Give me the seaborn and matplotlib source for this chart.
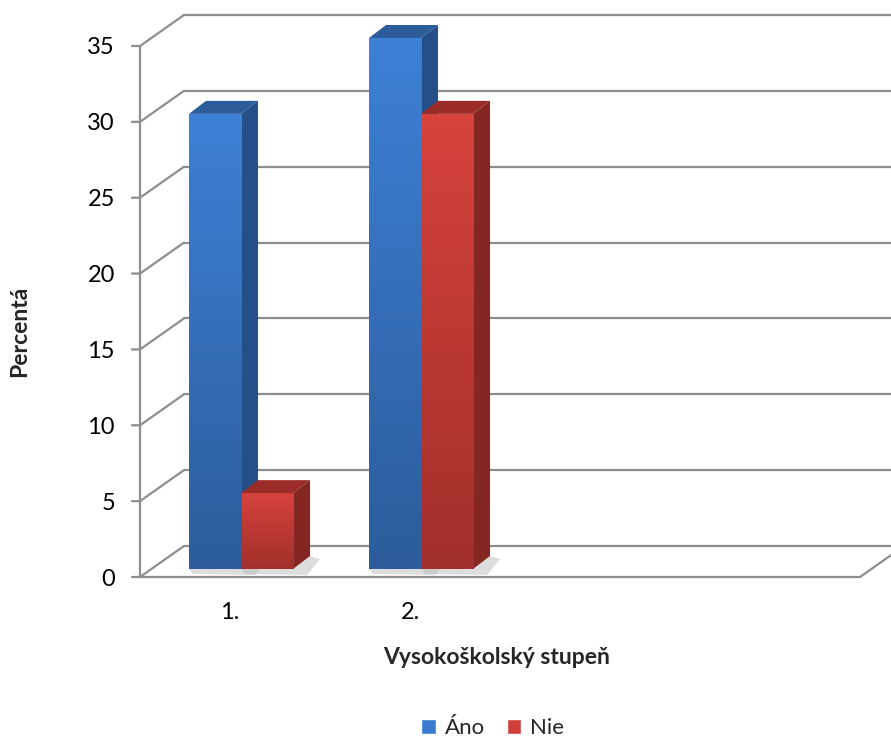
import matplotlib
matplotlib.use("Agg")
import matplotlib.pyplot as plt
import matplotlib.transforms as mtransforms
from matplotlib.patches import Polygon, Patch
import numpy as np
import pandas as pd
import seaborn as sns

# data
stupne = ["1.", "1.", "2.", "2."]
odpovede = ["Áno", "Nie", "Áno", "Nie"]
percenta = [30, 5, 35, 30]
y_ticks = [0, 5, 10, 15, 20, 25, 30, 35]

df = pd.DataFrame({"stupen": stupne, "odpoved": odpovede, "percent": percenta})

sns.set_style("white")
plt.rcParams["font.family"] = ["Lato", "DejaVu Sans"]

fig = plt.figure(figsize=(8.91, 7.40), dpi=100)
W, H = 891, 740
ax = fig.add_axes([140 / W, 1 - 577 / H, 720 / W, 531 / H])

blue = "#3a7bcf"
red = "#d13f3a"
sns.barplot(data=df, x="stupen", y="percent", hue="odpoved", palette=[blue, red],
            width=0.578, ax=ax, legend=False, saturation=1)
ax.set_xlim(-0.5, 3.5)
ax.set_ylim(0, 35)
for s in ax.spines.values():
    s.set_visible(False)
ax.tick_params(axis="both", length=0, labelsize=17, colors="black")
ax.set_yticks(y_ticks)
ax.tick_params(axis="y", pad=18)
ax.tick_params(axis="x", pad=18)
for lbl in ax.get_xticklabels():
    lbl.set_x(lbl.get_position()[0])
ax.set_xlabel("Vysokoškolský stupeň", fontsize=16.5, fontweight="bold")
ax.set_ylabel("Percentá", fontsize=16.5, fontweight="bold")
ax.xaxis.label.set_va("center")
ax.yaxis.label.set_va("center")
ax.xaxis.set_label_coords((497 - 140) / 720, -(658 - 577) / 531)
ax.yaxis.set_label_coords(-(140 - 20) / 720, (577 - 331) / 531)

# pseudo 3D frame: back wall grid lines and diagonals
grey = "#8e8e8e"
back = mtransforms.offset_copy(ax.transData, fig, x=44, y=31, units="dots")
for t in y_ticks:
    ax.plot([-0.5, 3.8], [t, t], color=grey, lw=1.6, transform=back, clip_on=False, zorder=0)
    p0 = ax.transData.transform((-0.5, t))
    p1 = back.transform((-0.5, t))
    ax.add_line(plt.Line2D([p0[0] - 8, p0[0], p1[0]], [p0[1], p0[1], p1[1]], color=grey,
                           lw=1.6, transform=None, clip_on=False, zorder=0))
ax.plot([-0.5, -0.5], [0, 35], color=grey, lw=1.6, clip_on=False, zorder=0)
ax.plot([-0.5, 3.5], [0, 0], color=grey, lw=1.6, clip_on=False, zorder=0)
q0 = ax.transData.transform((3.5, 0))
q1 = back.transform((3.5, 0))
ax.add_line(plt.Line2D([q0[0], q1[0]], [q0[1], q1[1]], color=grey, lw=1.6,
                       transform=None, clip_on=False, zorder=0))

# bars: move front face into depth, add side / top faces and gradient
front = mtransforms.offset_copy(ax.transData, fig, x=11, y=8, units="dots")
rear = mtransforms.offset_copy(ax.transData, fig, x=28, y=21, units="dots")
shades = {
    blue: ("#3d80d6", "#2c5c9b", "#2c5c99", "#254f88", "#1f426f"),
    red: ("#d6423c", "#a22f2b", "#9c2c28", "#842622", "#5f1a18"),
}
bars = list(ax.patches)
for bar in sorted(bars, key=lambda b: -b.get_x()):
    x, w, h = bar.get_x(), bar.get_width(), bar.get_height()
    fc = matplotlib.colors.to_hex(bar.get_facecolor())
    top_c, bot_c, lid_c, side_top, side_bot = shades[fc]
    bar.set_transform(front)
    bar.set_edgecolor("none")
    bar.set_zorder(3)
    # shadow on the floor
    s = [front.transform((x + w, 0)), rear.transform((x + w, 0)),
         rear.transform((x + w, 0)) + [10, -3], front.transform((x + w, 0)) + [14, -6],
         front.transform((x, 0)) + [4, -5], front.transform((x, 0))]
    ax.add_patch(Polygon(s, closed=True, transform=None, color="#bdbdbd", alpha=0.5,
                         lw=0, zorder=1, clip_on=False))
    grad = np.linspace(0, 1, 64)[:, None]
    cmap = matplotlib.colors.LinearSegmentedColormap.from_list("g", [bot_c, top_c])
    im = ax.imshow(grad, cmap=cmap, aspect="auto", extent=(x, x + w, 0, h), origin="lower",
                   transform=front, zorder=3.1, clip_on=True)
    im.set_clip_path(bar)
    side = [front.transform((x + w, 0)), front.transform((x + w, h)),
            rear.transform((x + w, h)), rear.transform((x + w, 0))]
    cmap2 = matplotlib.colors.LinearSegmentedColormap.from_list("s", [side_bot, side_top])
    sp = Polygon(side, closed=True, transform=None, facecolor=side_top, lw=0, zorder=2.9,
                 clip_on=False)
    ax.add_patch(sp)
    im2 = ax.imshow(grad, cmap=cmap2, aspect="auto", extent=(x + w, x + w + 0.1, 0, h),
                    origin="lower", transform=rear, zorder=2.95)
    im2.set_clip_path(sp)
    lid = [front.transform((x, h)), front.transform((x + w, h)),
           rear.transform((x + w, h)), rear.transform((x, h))]
    ax.add_patch(Polygon(lid, closed=True, transform=None, facecolor=lid_c, lw=0, zorder=3.2,
                         clip_on=False))
ax.set_xlim(-0.5, 3.5)
ax.set_ylim(0, 35)

handles = [Patch(facecolor=blue, label="Áno"), Patch(facecolor=red, label="Nie")]
fig.legend(handles=handles, loc="center", bbox_to_anchor=(0.553, 1 - 728 / H), ncol=2,
           frameon=False, fontsize=16, handlelength=0.65, handleheight=0.65,
           handletextpad=0.4, columnspacing=1.0)

fig.savefig("out.png", dpi=100)
